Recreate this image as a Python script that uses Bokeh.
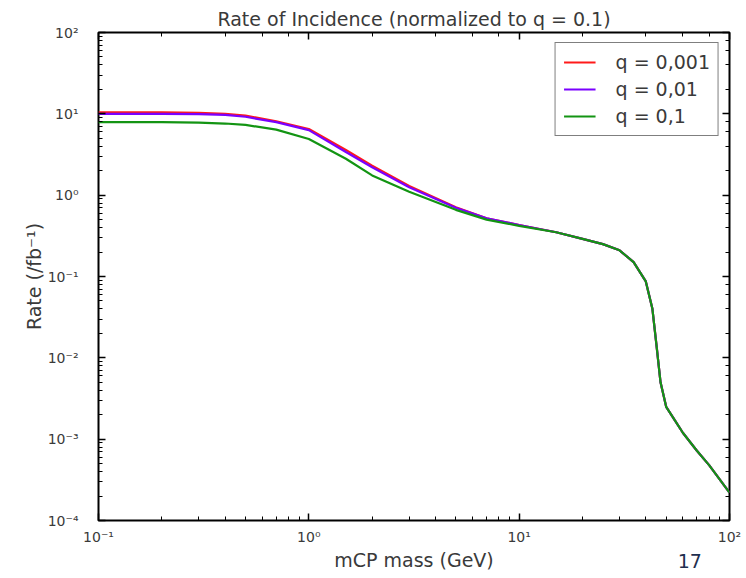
from bokeh.plotting import figure
from bokeh.models import (LogAxis, LogTicker, LinearAxis, LinearScale, FixedTicker,
                          CustomJSTickFormatter, Legend, LegendItem, Range1d, Title)
from bokeh.embed import file_html
from bokeh.resources import INLINE

# mass grid (GeV)
mass = [0.1, 0.2, 0.3, 0.4, 0.5, 0.7, 1.0, 1.5, 2.0, 3.0, 5.0, 7.0, 10, 15, 20, 25, 30,
        35, 40, 43, 45, 47, 50, 55, 60, 70, 80, 100]
rate_q0001 = [10.4, 10.4, 10.3, 10.0, 9.5, 8.1, 6.5, 3.6, 2.3, 1.3, 0.71, 0.52, 0.43, 0.35,
              0.29, 0.25, 0.21, 0.15, 0.087, 0.040, 0.014, 0.005, 0.0025, 0.0017, 0.0012,
              0.00072, 0.00048, 0.00022]
rate_q001 = [10.0, 10.0, 9.9, 9.7, 9.2, 7.9, 6.3, 3.4, 2.2, 1.25, 0.70, 0.52, 0.43, 0.35,
             0.29, 0.25, 0.21, 0.15, 0.087, 0.040, 0.014, 0.005, 0.0025, 0.0017, 0.0012,
             0.00072, 0.00048, 0.00022]
rate_q01 = [7.9, 7.9, 7.8, 7.6, 7.3, 6.4, 4.9, 2.8, 1.75, 1.1, 0.66, 0.50, 0.42, 0.35,
            0.29, 0.25, 0.21, 0.15, 0.087, 0.040, 0.014, 0.005, 0.0025, 0.0017, 0.0012,
            0.00072, 0.00048, 0.00022]
labels = ["q = 0,001", "q = 0,01", "q = 0,1"]
colors = ["#ff1a1a", "#7a00ff", "#139413"]
page_number = "17"

FONT = "DejaVu Sans"
TXT = "#3a3a3a"

p = figure(frame_width=631, frame_height=488, x_axis_type="log", y_axis_type="log",
           x_range=Range1d(0.1, 100), y_range=Range1d(1e-4, 1e2),
           output_backend="svg", toolbar_location=None,
           min_border_left=98, min_border_right=15, min_border_top=32, min_border_bottom=40)
p.title = Title(text="Rate of Incidence (normalized to q = 0.1)", align="center",
                text_font=FONT, text_font_size="19px", text_font_style="normal",
                text_color=TXT, standoff=6)
p.grid.visible = False
p.outline_line_color = "black"
p.outline_line_width = 2
p.background_fill_color = "white"
p.border_fill_color = "white"

sup = CustomJSTickFormatter(code="""
const m = {'-':'\\u207b','0':'\\u2070','1':'\\u00b9','2':'\\u00b2','3':'\\u00b3','4':'\\u2074',
           '5':'\\u2075','6':'\\u2076','7':'\\u2077','8':'\\u2078','9':'\\u2079'};
const e = String(Math.round(Math.log(tick) / Math.LN10));
let s = '';
for (let i = 0; i < e.length; i++) { s += m[e[i]]; }
return '10' + s;
""")

for ax in (p.xaxis[0], p.yaxis[0]):
    ax.formatter = sup
    ax.major_tick_in = 7
    ax.major_tick_out = 0
    ax.minor_tick_in = 4
    ax.minor_tick_out = 0
    ax.axis_line_color = None
    ax.major_tick_line_color = "black"
    ax.major_tick_line_width = 1.5
    ax.minor_tick_line_color = "black"
    ax.major_label_text_font = FONT
    ax.major_label_text_font_size = "14px"
    ax.major_label_text_color = TXT
    ax.axis_label_text_font = FONT
    ax.axis_label_text_font_size = "19px"
    ax.axis_label_text_font_style = "normal"
    ax.axis_label_text_color = TXT

p.yaxis.axis_label = "Rate (/fb\u207b\u00b9)"
p.xaxis.major_label_standoff = 8
p.yaxis.major_label_standoff = 20
p.yaxis.axis_label_standoff = 0

# second bottom axis carrying the axis title and the page number on one line
p.extra_x_ranges = {"page": Range1d(0, 1)}
p.extra_x_scales = {"page": LinearScale()}
pg = LinearAxis(x_range_name="page", ticker=FixedTicker(ticks=[0.937]),
                major_label_overrides={0.937: page_number},
                axis_line_color=None, major_tick_line_color=None, minor_tick_line_color=None,
                major_tick_in=0, major_tick_out=0, minor_tick_in=0, minor_tick_out=0,
                major_label_standoff=6,
                major_label_text_font=FONT, major_label_text_font_size="19px",
                major_label_text_color="#1f2f4f",
                axis_label="mCP mass (GeV)", axis_label_standoff=-22,
                axis_label_text_font=FONT, axis_label_text_font_size="19px",
                axis_label_text_font_style="normal", axis_label_text_color=TXT)
p.add_layout(pg, "below")

for loc in ("above", "right"):
    ax2 = LogAxis(ticker=LogTicker(), major_tick_in=7, major_tick_out=0,
                  minor_tick_in=4, minor_tick_out=0, axis_line_color=None,
                  major_label_text_color=None, major_label_standoff=0,
                  major_tick_line_width=1.5)
    p.add_layout(ax2, loc)

r1 = p.line(mass, rate_q0001, line_color=colors[0], line_width=2.2)
r2 = p.line(mass, rate_q001, line_color=colors[1], line_width=2.2)
r3 = p.line(mass, rate_q01, line_color=colors[2], line_width=2.2)

legend = Legend(items=[LegendItem(label=labels[0], renderers=[r1]),
                       LegendItem(label=labels[1], renderers=[r2]),
                       LegendItem(label=labels[2], renderers=[r3])],
                location="top_right", margin=10, padding=8, spacing=5,
                border_line_color="black", border_line_width=1.5,
                label_text_font=FONT, label_text_font_size="19px", label_text_color=TXT,
                glyph_width=32, glyph_height=22, label_height=22, label_standoff=20)
p.add_layout(legend, "center")

open("out.html", "w").write(file_html(p, INLINE))
